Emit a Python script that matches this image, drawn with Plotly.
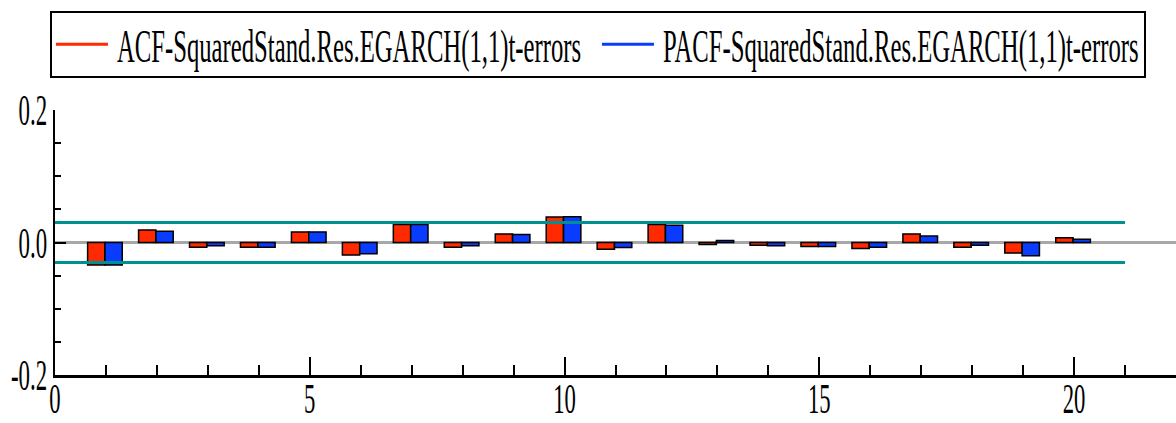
import plotly.graph_objects as go

lags = list(range(1, 21))
acf = [-0.034, 0.019, -0.007, -0.007, 0.016, -0.019, 0.027, -0.007, 0.013, 0.0385,
       -0.010, 0.027, -0.003, -0.004, -0.006, -0.009, 0.013, -0.007, -0.016, 0.007]
pacf = [-0.034, 0.017, -0.005, -0.007, 0.016, -0.017, 0.027, -0.005, 0.012, 0.039,
        -0.0076, 0.026, 0.003, -0.005, -0.006, -0.007, 0.0097, -0.004, -0.020, 0.005]
conf_band = 0.0303
band_lags = [0, 21]
names = ["ACF-SquaredStand.Res.EGARCH(1,1)t-errors",
         "PACF-SquaredStand.Res.EGARCH(1,1)t-errors"]
y_tickvals = [-0.2, 0.0, 0.2]
y_ticktext = ["-0.2", "0.0", "0.2"]
x_tickvals = [0, 5, 10, 15, 20]
x_ticktext = ["0", "5", "10", "15", "20"]

red = "#ff2a00"
blue = "#0a3cff"
teal = "#00908f"
FONT = "Liberation Serif"

fig = go.Figure()
fig.add_trace(go.Bar(x=lags, y=acf, offset=-0.36, width=0.34,
                     marker=dict(color=red, line=dict(color="black", width=1.5)),
                     showlegend=False, name=names[0]))
fig.add_trace(go.Bar(x=lags, y=pacf, offset=-0.02, width=0.34,
                     marker=dict(color=blue, line=dict(color="black", width=1.5)),
                     showlegend=False, name=names[1]))
for sgn in (1, -1):
    fig.add_trace(go.Scatter(x=band_lags, y=[sgn * conf_band] * 2, mode="lines",
                             line=dict(color=teal, width=3), showlegend=False,
                             hoverinfo="skip"))
# legend entries drawn as lines
fig.add_trace(go.Scatter(x=[None], y=[None], mode="lines", name=names[0],
                         line=dict(color=red, width=3)))
fig.add_trace(go.Scatter(x=[None], y=[None], mode="lines", name=names[1],
                         line=dict(color=blue, width=3)))

fig.update_layout(
    width=1176, height=423,
    margin=dict(l=55, r=0, t=110, b=48, autoexpand=False),
    paper_bgcolor="white", plot_bgcolor="white",
    barmode="overlay",
    font=dict(family=FONT, size=42, color="black"),
    legend=dict(orientation="h", x=-0.0045, y=1.3736, xanchor="left", yanchor="top",
                bordercolor="black", borderwidth=2, bgcolor="white",
                font=dict(family=FONT, size=38), itemwidth=55,
                entrywidth=476, entrywidthmode="pixels"),
    xaxis=dict(range=[0, 22], showgrid=False, zeroline=False, automargin=False,
               showline=True, linecolor="black", linewidth=2.5,
               tickmode="array", tickvals=x_tickvals, ticktext=x_ticktext,
               ticks="inside", ticklen=18, tickcolor="black", tickwidth=1.5,
               minor=dict(ticks="inside", dtick=1, ticklen=10, tickcolor="black", tickwidth=1.5),
               tickfont=dict(family=FONT, size=42)),
    yaxis=dict(range=[-0.2, 0.2], showgrid=False, automargin=False,
               zeroline=True, zerolinecolor="#a8a8a8", zerolinewidth=2.5,
               showline=True, linecolor="black", linewidth=2,
               tickmode="array", tickvals=y_tickvals, ticktext=y_ticktext,
               ticks="inside", ticklen=11, tickcolor="black", tickwidth=1.5,
               minor=dict(ticks="inside", dtick=0.05, ticklen=6, tickcolor="black", tickwidth=1.5),
               tickfont=dict(family=FONT, size=44)),
)

# The original lettering is tall and narrow: compress the real SVG text horizontally,
# and lengthen the legend line samples to match.
post = """
var gd = document.getElementById('{plot_id}');
function squeeze(sel, sx, sy, dx, dy) {
  gd.querySelectorAll(sel).forEach(function (t) {
    if (t.getAttribute('data-squeezed')) return;
    var x = parseFloat(t.getAttribute('x')) || 0;
    var tr = t.getAttribute('transform') || '';
    t.setAttribute('transform', tr + ' translate(' + (x + dx) + ',' + dy + ') scale(' + sx + ',' + sy + ') translate(' + (-x) + ',0)');
    t.setAttribute('data-squeezed', '1');
  });
}
function squeezeAll() {
  squeeze('.xtick text', 0.54, 1, 0, -15);
  squeeze('.ytick text', 0.52, 1, 3, 0);
  squeeze('.legendtext', 0.65, 1.22, 0, 0);
  gd.querySelectorAll('.legend .legendlines path, .legend path.js-line').forEach(function (p) {
    p.setAttribute('d', 'M4,0h52');
  });
}
squeezeAll();
gd.on('plotly_afterplot', squeezeAll);
"""

fig.write_html("out.html", post_script=post)
